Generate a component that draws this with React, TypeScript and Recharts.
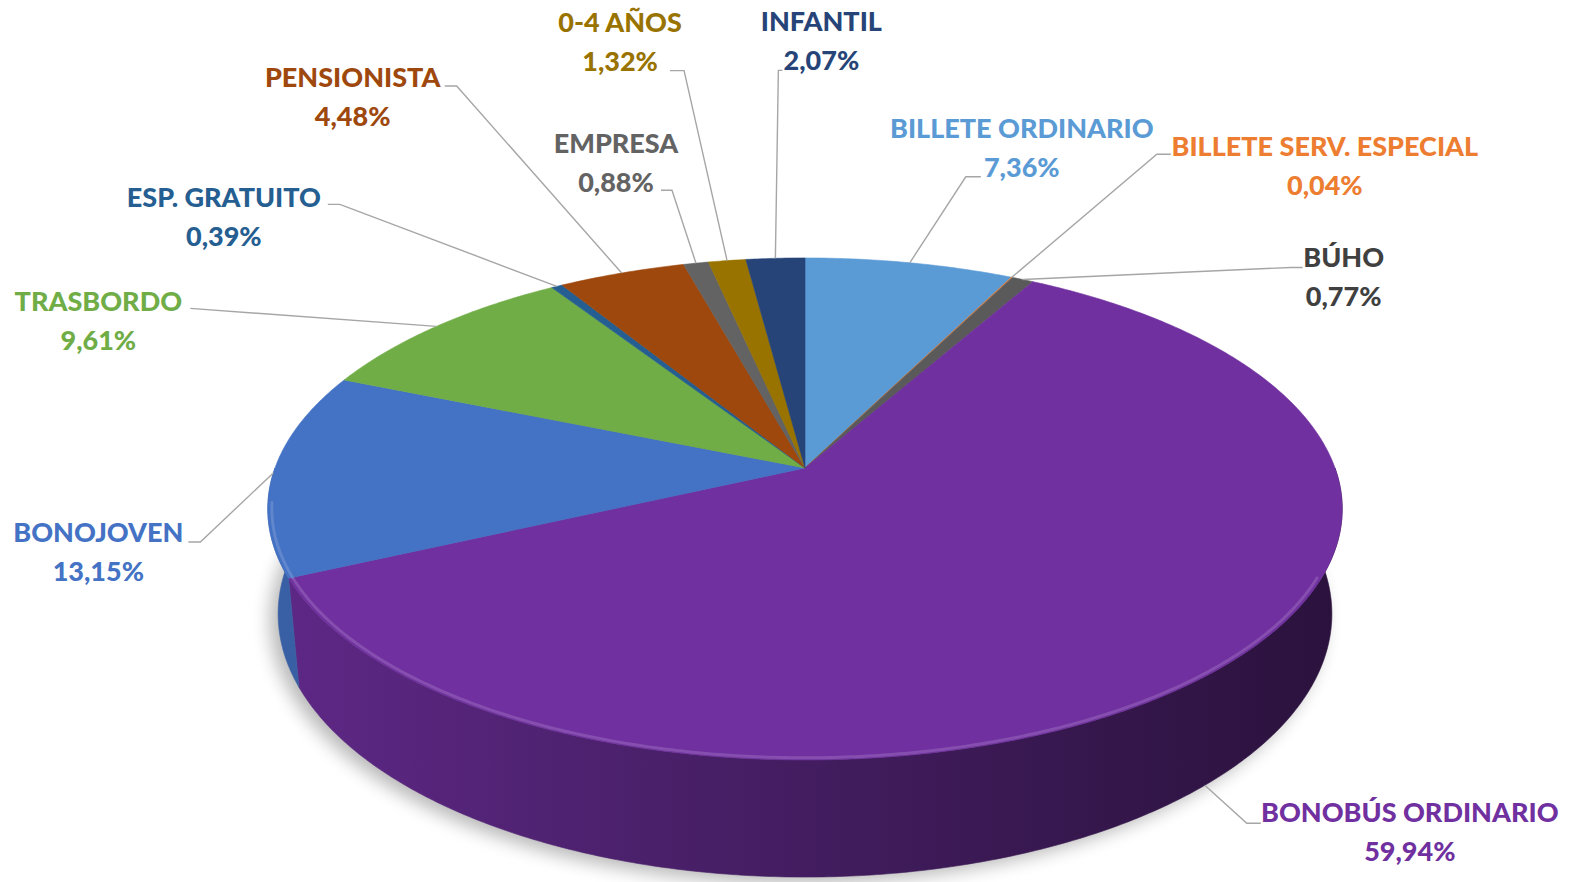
import React from "react";
import { PieChart, Pie } from "recharts";

// ticket types, clockwise from 12 o'clock
const categories = [
  "BILLETE ORDINARIO",
  "BILLETE SERV. ESPECIAL",
  "BÚHO",
  "BONOBÚS ORDINARIO",
  "BONOJOVEN",
  "TRASBORDO",
  "ESP. GRATUITO",
  "PENSIONISTA",
  "EMPRESA",
  "0-4 AÑOS",
  "INFANTIL",
];

const shares = [7.36, 0.04, 0.77, 59.94, 13.15, 9.61, 0.39, 4.48, 0.88, 1.32, 2.07];

const sliceColors = [
  "#5B9BD5",
  "#ED7D31",
  "#5A5A5A",
  "#7030A0",
  "#4472C4",
  "#70AD47",
  "#255E91",
  "#9E480E",
  "#636363",
  "#997300",
  "#264478",
];

const labelColors = [
  "#5B9BD5",
  "#ED7D31",
  "#404040",
  "#7030A0",
  "#4472C4",
  "#70AD47",
  "#255E91",
  "#9E480E",
  "#636363",
  "#997300",
  "#264478",
];

// label layout, offsets from the slice anchor on the pie rim
// [elbowDx, elbowDy, tail, textDx, textDy, anchorDepth]
const labelLayout: number[][] = [
  [56, -86, 15, 112, -135, 0],
  [145, -123, 14, 313, -132, 0],
  [268, -12, 12, 321, -23, 0],
  [42, 38, 14, 205, 26, 1],
  [-73, 69, -12, -175, 59, 0],
  [-246, -18, 0, -338, -26, 0],
  [-217, -82, -12, -333, -90, 0],
  [-165, -187, -12, -269, -197, 0],
  [-24, -73, -11, -80, -121, 0],
  [-43, -190, -14, -107, -239, 0],
  [3, -188, 4, 46, -238, 0],
];

const chartData = categories.map((name, i) => ({ name, value: shares[i] }));

// fake 3d camera
const TILT_SIN = 0.461;
const TILT_COS = 0.887;
const PERSP = 0.184;
const DEPTH = 0.225;

function project(cx: number, cy: number, r: number, angleDeg: number, depth: number) {
  const a = (angleDeg * Math.PI) / 180;
  const u = Math.cos(a);
  const v = Math.sin(a);
  const den = 1 + PERSP * TILT_COS * v + PERSP * TILT_SIN * depth;
  return { x: cx + (r * u) / den, y: cy - (r * (v * TILT_SIN - depth * TILT_COS)) / den };
}

function arcPoints(cx: number, cy: number, r: number, from: number, to: number, depth: number) {
  const steps = Math.max(2, Math.ceil(Math.abs(from - to) / 0.5));
  const pts = [];
  for (let i = 0; i <= steps; i++) {
    const a = from + ((to - from) * i) / steps;
    pts.push(project(cx, cy, r, a, depth));
  }
  return pts;
}

function toPath(pts: { x: number; y: number }[], close = true) {
  const d = pts.map((p, i) => `${i === 0 ? "M" : "L"}${p.x.toFixed(2)},${p.y.toFixed(2)}`).join(" ");
  return close ? d + " Z" : d;
}

function shade(hex: string, f: number) {
  const n = parseInt(hex.slice(1), 16);
  const ch = [(n >> 16) & 255, (n >> 8) & 255, n & 255].map((c) =>
    f <= 1 ? Math.round(c * f) : Math.round(c + (255 - c) * (f - 1))
  );
  return `rgb(${ch[0]},${ch[1]},${ch[2]})`;
}

function formatShare(v: number) {
  return v.toFixed(2).replace(".", ",") + "%";
}

function renderWall(props: any) {
  const { cx, cy, outerRadius, startAngle, endAngle, index } = props;
  const color = sliceColors[index];
  // only the front half of the cylinder shows (angles between -180 and 0)
  const hi = Math.min(startAngle, 0);
  const lo = Math.max(endAngle, -180);
  const gid = `wall-grad-${index}`;
  const shadow =
    index === 0 ? (
      <g>
        <defs>
          <filter id="pie-shadow" x="-20%" y="-20%" width="140%" height="140%">
            <feGaussianBlur stdDeviation="9" />
          </filter>
        </defs>
        <path
          d={toPath(arcPoints(cx - 8, cy + 6, outerRadius, 0, 360, DEPTH))}
          fill="#000"
          opacity={0.28}
          filter="url(#pie-shadow)"
        />
      </g>
    ) : null;
  if (hi <= lo) return <g key={`wall-${index}`}>{shadow}</g>;
  const top = arcPoints(cx, cy, outerRadius, hi, lo, 0);
  const bottom = arcPoints(cx, cy, outerRadius, lo, hi, DEPTH);
  return (
    <g key={`wall-${index}`}>
      {shadow}
      <defs>
        <linearGradient
          id={gid}
          gradientUnits="userSpaceOnUse"
          x1={cx - outerRadius}
          y1={0}
          x2={cx + outerRadius}
          y2={0}
        >
          <stop offset="0" stopColor={shade(color, 0.84)} />
          <stop offset="0.45" stopColor={shade(color, 0.62)} />
          <stop offset="1" stopColor={shade(color, 0.38)} />
        </linearGradient>
      </defs>
      <path d={toPath([...top, ...bottom])} fill={`url(#${gid})`} stroke={`url(#${gid})`} strokeWidth={0.6} />
    </g>
  );
}

function renderTop(props: any) {
  const { cx, cy, outerRadius, startAngle, endAngle, index } = props;
  const color = sliceColors[index];
  const rim = arcPoints(cx, cy, outerRadius, startAngle, endAngle, 0);
  const hi = Math.min(startAngle, -25);
  const lo = Math.max(endAngle, -172);
  return (
    <g key={`top-${index}`}>
      <path d={toPath([{ x: cx, y: cy }, ...rim])} fill={color} stroke={color} strokeWidth={0.6} />
      {hi > lo ? (
        <path
          d={toPath(arcPoints(cx, cy, outerRadius - 4, hi, lo, 0), false)}
          fill="none"
          stroke={shade(color, 1.3)}
          strokeWidth={3}
          strokeOpacity={0.5}
          strokeLinecap="round"
        />
      ) : null}
    </g>
  );
}

const textStyle = {
  fontFamily: "Lato, 'Open Sans', sans-serif",
  fontWeight: 900,
  fontSize: 27,
};

function renderLabel(props: any) {
  const { cx, cy, outerRadius, startAngle, endAngle, index } = props;
  const [ex, ey, tail, tx, ty, depth] = labelLayout[index];
  const mid = (startAngle + endAngle) / 2;
  const a = project(cx, cy, outerRadius, mid, depth * DEPTH);
  const elbow = { x: a.x + ex, y: a.y + ey };
  const end = { x: elbow.x + tail, y: elbow.y };
  const color = labelColors[index];
  return (
    <g key={`label-${index}`}>
      <path d={toPath([a, elbow, end], false)} fill="none" stroke="#A6A6A6" strokeWidth={1.4} />
      <text x={a.x + tx} y={a.y + ty} fill={color} textAnchor="middle" dominantBaseline="central" style={textStyle}>
        {categories[index]}
      </text>
      <text
        x={a.x + tx}
        y={a.y + ty + 39}
        fill={color}
        textAnchor="middle"
        dominantBaseline="central"
        style={textStyle}
      >
        {formatShare(shares[index])}
      </text>
    </g>
  );
}

export default function App() {
  const pieProps = {
    data: chartData,
    dataKey: "value",
    nameKey: "name",
    cx: 805,
    cy: 468,
    outerRadius: 530,
    startAngle: 90,
    endAngle: -270,
    fill: "none",
    stroke: "none",
    labelLine: false,
    isAnimationActive: false,
  };
  return (
    <div style={{ position: "absolute", left: 0, top: 0, background: "#fff" }}>
      <PieChart width={1572} height={882} margin={{ top: 0, right: 0, bottom: 0, left: 0 }}>
        <Pie {...pieProps} label={renderWall} />
        <Pie {...pieProps} label={renderTop} />
        <Pie {...pieProps} label={renderLabel} />
      </PieChart>
    </div>
  );
}
